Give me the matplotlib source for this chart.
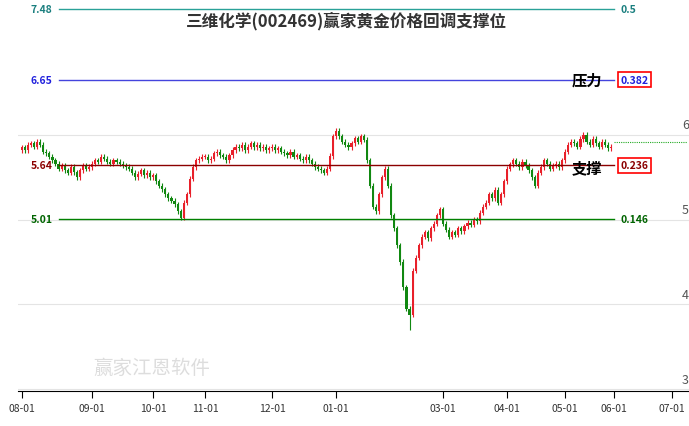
import numpy as np
import matplotlib
matplotlib.use("Agg")
import matplotlib.pyplot as plt

plt.rcParams['font.family'] = ['Noto Sans CJK SC', 'DejaVu Sans']

# daily closes (trading days Aug 2023 - late May 2024)
aug = [5.85, 5.82, 5.88, 5.90, 5.86, 5.92, 5.88, 5.80, 5.78, 5.74, 5.70, 5.66, 5.60, 5.64, 5.58, 5.55, 5.62, 5.56, 5.50, 5.58, 5.64, 5.60, 5.62]
sep = [5.66, 5.70, 5.68, 5.74, 5.72, 5.68, 5.66, 5.70, 5.68, 5.66, 5.64, 5.62, 5.60, 5.55, 5.50, 5.54, 5.58, 5.52, 5.55, 5.50]
oct_ = [5.52, 5.45, 5.40, 5.36, 5.30, 5.25, 5.22, 5.18, 5.10, 5.02, 5.20, 5.30, 5.48, 5.62, 5.70, 5.72, 5.74]
nov = [5.74, 5.70, 5.72, 5.78, 5.80, 5.76, 5.74, 5.70, 5.76, 5.82, 5.86, 5.84, 5.88, 5.82, 5.86, 5.90, 5.85, 5.88, 5.84, 5.86, 5.82, 5.84]
dec = [5.86, 5.82, 5.84, 5.80, 5.78, 5.76, 5.80, 5.74, 5.76, 5.72, 5.70, 5.74, 5.70, 5.66, 5.62, 5.60, 5.58, 5.55, 5.60, 5.75, 5.98]
jan = [6.05, 5.98, 5.92, 5.88, 5.85, 5.90, 5.96, 5.92, 5.98, 5.94, 5.70, 5.40, 5.15, 5.10, 5.30, 5.50, 5.60, 5.40, 5.05, 4.90, 4.70, 4.50]
feb = [4.20, 3.95, 3.88, 4.40, 4.55, 4.70, 4.80, 4.85, 4.78, 4.90, 4.95, 5.05, 5.12]
mar = [4.95, 4.88, 4.80, 4.85, 4.82, 4.90, 4.86, 4.92, 4.96, 4.94, 5.00, 4.98, 5.08, 5.15, 5.20, 5.30, 5.25, 5.35, 5.20, 5.30, 5.45]
apr = [5.60, 5.65, 5.70, 5.66, 5.62, 5.68, 5.64, 5.58, 5.50, 5.40, 5.55, 5.62, 5.70, 5.66, 5.60, 5.64, 5.66, 5.62, 5.70]
may = [5.80, 5.88, 5.92, 5.90, 5.86, 5.95, 6.00, 5.92, 5.88, 5.95, 5.90, 5.86, 5.92, 5.88, 5.84, 5.86]
months = [aug, sep, oct_, nov, dec, jan, feb, mar, apr, may]
month_labels = ["08-01", "09-01", "10-01", "11-01", "12-01", "01-01", "03-01", "04-01", "05-01", "06-01", "07-01"]
june_len = 19  # trading days assumed for June (only for the 07-01 tick)
closes = np.array(sum(months, []))
low_idx = len(sum(months[:6], [])) + 2
special_lows = {low_idx: 3.70}

levels = [7.48, 6.65, 5.64, 5.01]
ratios = ["0.5", "0.382", "0.236", "0.146"]
level_colors = ["#2aa198", "#4444dd", "#8b0000", "#008000"]
label_colors = ["#1a7f7f", "#2020dd", "#8b0000", "#006400"]

starts = np.cumsum([0] + [len(m) for m in months])
tick_pos = [starts[i] for i in range(6)] + [starts[7], starts[8], starts[9], starts[10], starts[10] + june_len]

fig = plt.figure(figsize=(6.89, 4.27), dpi=100)
ax = fig.add_axes([0.026, 0.082, 0.974, 0.918])
x = np.arange(len(closes))
opens = np.concatenate([[closes[0] - 0.03], closes[:-1]])
for i in range(len(closes)):
    o, c = opens[i], closes[i]
    col = "#e8202a" if c >= o else "#118811"
    lo = special_lows.get(i, min(o, c) - 0.03)
    hi = max(o, c) + 0.03
    ax.vlines(x[i], lo, hi, color=col, lw=0.8)
    ax.bar(x[i], max(abs(c - o), 0.01), bottom=min(o, c), width=0.7, color=col, lw=0)

for v in [3, 4, 5, 6]:
    ax.axhline(v, color="#e4e4e4", lw=0.8, zorder=0)
    ax.text(1.0, v + 0.04, str(v), transform=ax.get_yaxis_transform(), ha="right", va="bottom",
            fontsize=9, color="#555555")

x0, x1 = 12, 194
for lv, r, c, lc in zip(levels, ratios, level_colors, label_colors):
    ax.plot([x0, x1], [lv, lv], color=c, lw=1)
    ax.text(x0 - 2, lv, f"{lv:.2f}", color=lc, fontsize=7.5, ha="right", va="center", fontweight="bold")
    box = None
    if r in ("0.382", "0.236"):
        box = dict(boxstyle="square,pad=0.25", fc="none", ec="red", lw=1.2)
    ax.text(x1 + 2, lv, r, color=lc, fontsize=7.5, ha="left", va="center", fontweight="bold", bbox=box)
ax.text(x1 - 4, 6.65, "压力", fontsize=11, ha="right", va="center", fontweight="bold")
ax.text(x1 - 4, 5.62, "支撑", fontsize=11, ha="right", va="center", fontweight="bold")
ax.plot([x[-1] + 1, tick_pos[-1] + 5], [closes[-1] + 0.05] * 2, color="#22aa22", lw=0.8, ls=(0, (1, 1)))

ax.text(0.49, 0.945, "三维化学(002469)赢家黄金价格回调支撑位", transform=ax.transAxes,
        ha="center", va="center", fontsize=12, fontweight="bold", color="#333333")
ax.text(0.2, 0.045, "赢家江恩软件", transform=ax.transAxes, fontsize=14, color="#dddddd", ha="center")

# 08-01 at ~22px, 07-01 at ~672px
span = tick_pos[-1] - tick_pos[0]
ppd = 650 / span
ax.set_xlim(-4 / ppd, tick_pos[-1] + 17 / ppd)
ax.set_ylim(2.98, 7.6)
ax.set_xticks(tick_pos)
ax.set_xticklabels(month_labels, fontsize=7.5, color="#333333")
ax.tick_params(axis="x", length=5, direction="out")
ax.set_yticks([])
for s in ["top", "right", "left"]:
    ax.spines[s].set_visible(False)
fig.savefig("out.png", dpi=100)
